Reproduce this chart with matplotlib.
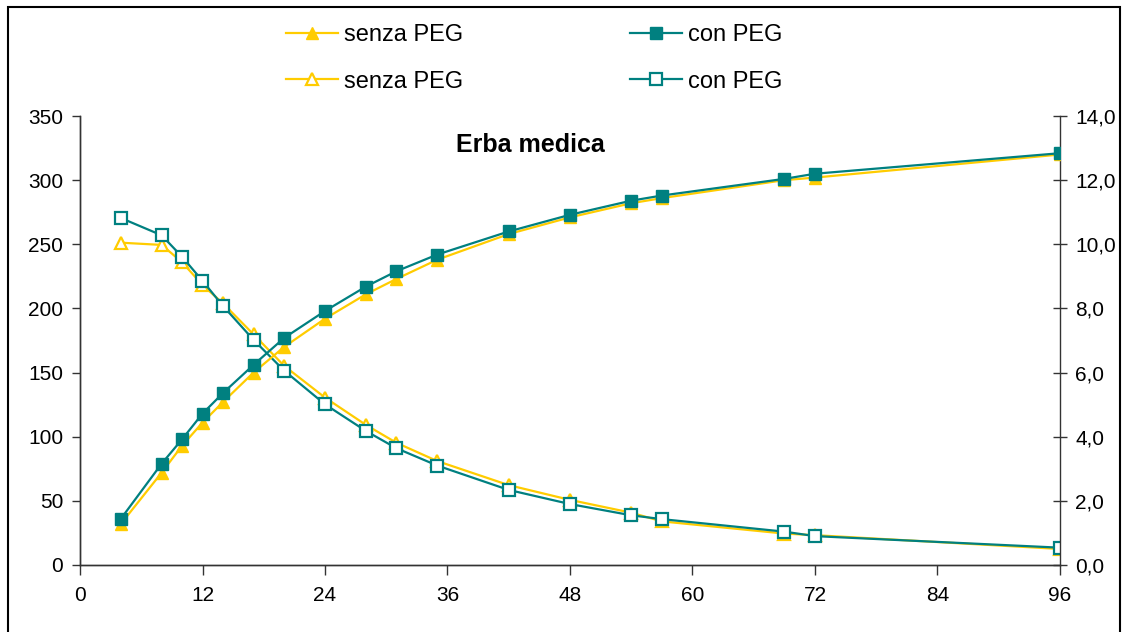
import matplotlib
matplotlib.use('Agg')
import matplotlib.pyplot as plt
import matplotlib.patches as patches

plt.rcParams['font.family'] = ['Liberation Sans', 'DejaVu Sans']

# Data (hours)
ore = [4, 8, 10, 12, 14, 17, 20, 24, 28, 31, 35, 42, 48, 54, 57, 69, 72, 96]

# cumulative gas (left axis)
cum_senza = [32, 72, 93, 111, 127, 150, 170, 192, 211, 223, 238, 258, 271, 282, 286, 300, 302, 320]
cum_con = [36, 79, 98, 118, 134, 156, 177, 198, 217, 229, 242, 260, 273, 284, 288, 301, 305, 321]

# rate (right axis)
rate_senza = [10.05, 9.98, 9.44, 8.73, 8.16, 7.19, 6.21, 5.22, 4.37, 3.81, 3.24, 2.49, 2.03, 1.63, 1.36, 0.98, 0.93, 0.50]
rate_con = [10.82, 10.28, 9.61, 8.86, 8.08, 7.02, 6.06, 5.01, 4.18, 3.64, 3.10, 2.34, 1.90, 1.55, 1.43, 1.04, 0.90, 0.54]

x_ticks = [0, 12, 24, 36, 48, 60, 72, 84, 96]
left_ticks = [0, 50, 100, 150, 200, 250, 300, 350]
right_ticks = [0, 2, 4, 6, 8, 10, 12, 14]

giallo = '#FFCC00'
verde = '#008080'

fig = plt.figure(figsize=(11.28, 6.32), dpi=100)
ax = fig.add_axes([80 / 1128, 67 / 632, 980 / 1128, 449 / 632])
ax2 = ax.twinx()

# rate curves on the right axis (open markers)
l3, = ax2.plot(ore, rate_senza, color=giallo, lw=1.6, marker='^', ms=9,
               mfc='white', mec=giallo, mew=1.6)
l4, = ax2.plot(ore, rate_con, color=verde, lw=1.6, marker='s', ms=8,
               mfc='white', mec=verde, mew=1.6)

# cumulative curves on the left axis (filled markers)
l1, = ax.plot(ore, cum_senza, color=giallo, lw=1.6, marker='^', ms=9, mfc=giallo, mec=giallo)
l2, = ax.plot(ore, cum_con, color=verde, lw=1.6, marker='s', ms=8, mfc=verde, mec=verde)
ax.set_zorder(ax2.get_zorder() + 1)
ax.patch.set_visible(False)

ax.set_xlim(0, 96)
ax.set_ylim(0, 350)
ax2.set_ylim(0, 14)
ax.set_xticks(x_ticks)
ax.set_yticks(left_ticks)
ax2.set_yticks(right_ticks)
ax2.set_yticklabels([f'{v:.1f}'.replace('.', ',') for v in right_ticks])

for a in (ax, ax2):
    a.spines['top'].set_visible(False)
    for s in a.spines.values():
        s.set_linewidth(1.0)
        s.set_color('#333333')
ax.spines['right'].set_visible(False)
ax.tick_params(axis='y', direction='out', length=6, width=1, labelsize=15, pad=6, color='#333333')
ax.tick_params(axis='x', direction='out', length=7, width=1, labelsize=15, pad=8, color='#333333')
ax2.tick_params(axis='y', direction='inout', length=10, width=1, labelsize=15, pad=6, color='#333333')

ax.text(0.46, 0.935, 'Erba medica', transform=ax.transAxes, ha='center', va='center',
        fontsize=18, fontweight='bold')

fig.legend([l1, l3, l2, l4], ['senza PEG', 'senza PEG', 'con PEG', 'con PEG'],
           ncol=2, loc='upper left', bbox_to_anchor=(274 / 1128, 1 - 12 / 632),
           frameon=False, fontsize=17, handlelength=2.2, handletextpad=0.25,
           columnspacing=7.1, labelspacing=1.05, borderpad=0)

# outer frame of the chart area
fig.patches.append(patches.Rectangle((7.5 / 1128, -0.05), 1112.5 / 1128, 1.05 - 7 / 632,
                                     transform=fig.transFigure, fill=False,
                                     edgecolor='black', lw=1.5))

fig.savefig('out.png', dpi=100)
